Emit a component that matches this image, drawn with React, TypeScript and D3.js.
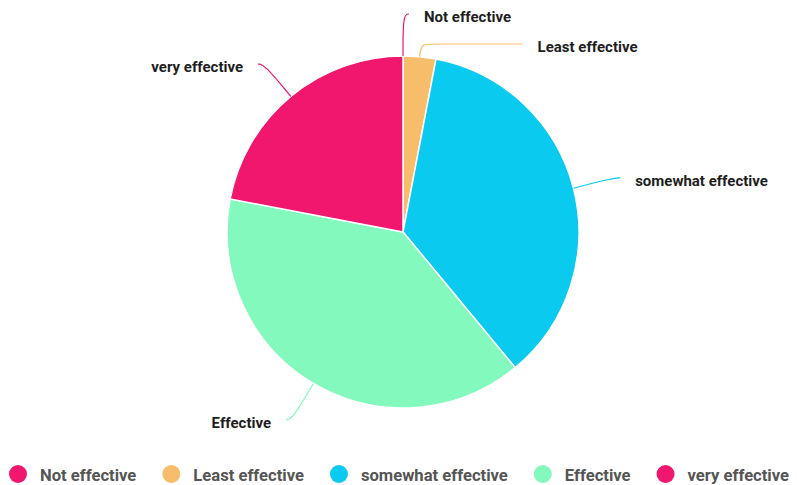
import React, { useEffect, useRef } from "react";
import * as d3 from "d3";

const categories = ["Not effective", "Least effective", "somewhat effective", "Effective", "very effective"];
const values = [0, 3, 36, 39, 22];
const colors = ["#F1166E", "#F8BD6B", "#0BCAF0", "#83F9BD", "#F1166E"];

const W = 798;
const H = 485;

export default function App() {
  const ref = useRef<SVGSVGElement | null>(null);

  useEffect(() => {
    const svg = d3.select(ref.current);
    svg.selectAll("*").remove();

    const cx = 403;
    const cy = 232;
    const r = 176;

    const data = categories.map((c, i) => ({ name: c, value: values[i], color: colors[i] }));
    const pie = d3.pie<any>().value((d) => d.value).sort(null).startAngle(0).endAngle(2 * Math.PI);
    const arcs = pie(data);
    const arc = d3.arc<any>().innerRadius(0).outerRadius(r);

    const g = svg.append("g").attr("transform", `translate(${cx},${cy})`);
    g.selectAll("path.slice")
      .data(arcs.filter((a) => a.endAngle > a.startAngle))
      .join("path")
      .attr("class", "slice")
      .attr("d", arc as any)
      .attr("fill", (d) => d.data.color)
      .attr("stroke", "#fff")
      .attr("stroke-width", 1.5);

    // label anchor points
    const len1 = 42;
    const labels = arcs.map((a) => {
      const mid = (a.startAngle + a.endAngle) / 2;
      const sx = Math.sin(mid), sy = -Math.cos(mid);
      const right = sx >= 0;
      return {
        a,
        mid,
        right,
        p0: [sx * r, sy * r],
        p1: [sx * (r + len1), sy * (r + len1)],
        moved: false,
      };
    });

    // push overlapping labels on the same side apart
    const minGap = 30;
    [true, false].forEach((side) => {
      const group = labels.filter((l) => l.right === side).sort((a, b) => a.p1[1] - b.p1[1]);
      for (let i = 1; i < group.length; i++) {
        const prev = group[i - 1];
        const cur = group[i];
        if (cur.p1[1] - prev.p1[1] < minGap) {
          cur.p1 = [cur.p1[0], prev.p1[1] + minGap];
          cur.moved = true;
        }
      }
    });

    const lineGen = d3.line().curve(d3.curveBasis);
    labels.forEach((l) => {
      const dir = l.right ? 1 : -1;
      const len2 = l.moved ? 100 : 6;
      const p0 = l.p0 as [number, number];
      const p1 = l.p1 as [number, number];
      let pts: [number, number][];
      if (l.moved) {
        const elbow: [number, number] = [p0[0] + 3 * dir, p1[1]];
        pts = [p0, [p0[0] + 1 * dir, p1[1] + 6], elbow, [elbow[0] + 10 * dir, p1[1]], [elbow[0] + len2 * dir, p1[1]]];
      } else {
        pts = [p0, p1, [p1[0] + len2 * dir, p1[1]]];
      }
      const end = pts[pts.length - 1];
      g.append("path")
        .attr("d", lineGen(pts) as string)
        .attr("fill", "none")
        .attr("stroke", l.a.data.color)
        .attr("stroke-width", 1.2);
      g.append("text")
        .attr("x", end[0] + 15 * dir)
        .attr("y", end[1] + 3)
        .attr("dominant-baseline", "central")
        .attr("text-anchor", l.right ? "start" : "end")
        .attr("font-family", "Roboto, sans-serif")
        .attr("font-weight", 700)
        .attr("font-size", 15)
        .attr("fill", "#1e1e1e")
        .text(l.a.data.name);
    });

    // legend
    const legend = svg.append("g").attr("transform", `translate(0,${474})`);
    let x = 18;
    data.forEach((d) => {
      const item = legend.append("g");
      item.append("circle").attr("cx", x).attr("cy", 0).attr("r", 9).attr("fill", d.color);
      const t = item
        .append("text")
        .attr("x", x + 22)
        .attr("y", 1)
        .attr("dominant-baseline", "central")
        .attr("font-family", "Roboto, sans-serif")
        .attr("font-weight", 700)
        .attr("font-size", 16.6)
        .attr("fill", "#555")
        .text(d.name);
      const w = (t.node() as SVGTextElement).getComputedTextLength();
      x = x + 22 + w + 35;
    });
  }, []);

  return (
    <svg
      ref={ref}
      width={W}
      height={H}
      style={{ position: "absolute", left: 0, top: 0, background: "#fff" }}
    />
  );
}
